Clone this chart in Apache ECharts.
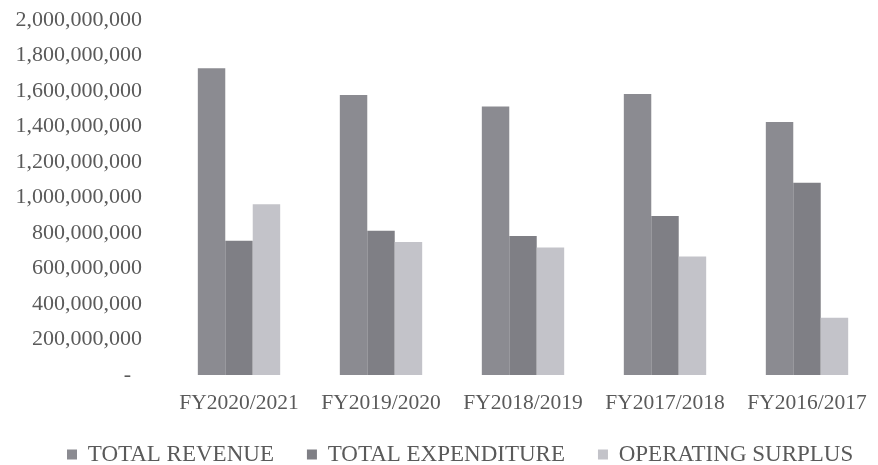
<!DOCTYPE html>
<html>
<head>
<meta charset="utf-8">
<script src="https://cdn.jsdelivr.net/npm/echarts@6/dist/echarts.min.js"></script>
<style>
html,body{margin:0;padding:0;background:#fff;}
#chart{width:878px;height:465px;}
</style>
</head>
<body>
<div id="chart"></div>
<script>
var categories = ['FY2020/2021', 'FY2019/2020', 'FY2018/2019', 'FY2017/2018', 'FY2016/2017'];
var totalRevenue = [1728000000, 1577000000, 1512000000, 1583000000, 1425000000];
var totalExpenditure = [757000000, 813000000, 783000000, 896000000, 1083000000];
var operatingSurplus = [962000000, 749000000, 719000000, 667000000, 323000000];
var seriesNames = ['TOTAL REVENUE', 'TOTAL EXPENDITURE', 'OPERATING SURPLUS'];

var fontFam = '"Liberation Serif", "Times New Roman", serif';
var textColor = '#5a5a5a';

function fmt(v) {
  if (v === 0) return '-  ';
  return String(v).replace(/\B(?=(\d{3})+(?!\d))/g, ',');
}

var chart = echarts.init(document.getElementById('chart'), null, {renderer: 'canvas'});
chart.setOption({
  animation: false,
  backgroundColor: '#ffffff',
  color: ['#8b8b91', '#7f7f85', '#c3c3c9'],
  grid: {left: 168, right: -2, top: 20, bottom: 90, containLabel: false},
  legend: {
    data: seriesNames,
    left: 62,
    top: 438,
    icon: 'rect',
    itemWidth: 10,
    itemHeight: 10,
    itemGap: 33,
    formatter: function (name) { return ' ' + name; },
    textStyle: {fontFamily: fontFam, fontSize: 23, color: textColor}
  },
  xAxis: {
    type: 'category',
    data: categories,
    axisLine: {show: false},
    axisTick: {show: false},
    splitLine: {show: false},
    axisLabel: {fontFamily: fontFam, fontSize: 21.5, color: textColor, margin: 17, interval: 0}
  },
  yAxis: {
    type: 'value',
    min: 0,
    max: 2000000000,
    interval: 200000000,
    axisLine: {show: false},
    axisTick: {show: false},
    splitLine: {show: false},
    axisLabel: {fontFamily: fontFam, fontSize: 22, color: textColor, margin: 26, formatter: fmt}
  },
  series: [
    {name: seriesNames[0], type: 'bar', data: totalRevenue, barGap: '0%', barCategoryGap: '42%'},
    {name: seriesNames[1], type: 'bar', data: totalExpenditure, barGap: '0%', barCategoryGap: '42%'},
    {name: seriesNames[2], type: 'bar', data: operatingSurplus, barGap: '0%', barCategoryGap: '42%'}
  ]
});
</script>
</body>
</html>
